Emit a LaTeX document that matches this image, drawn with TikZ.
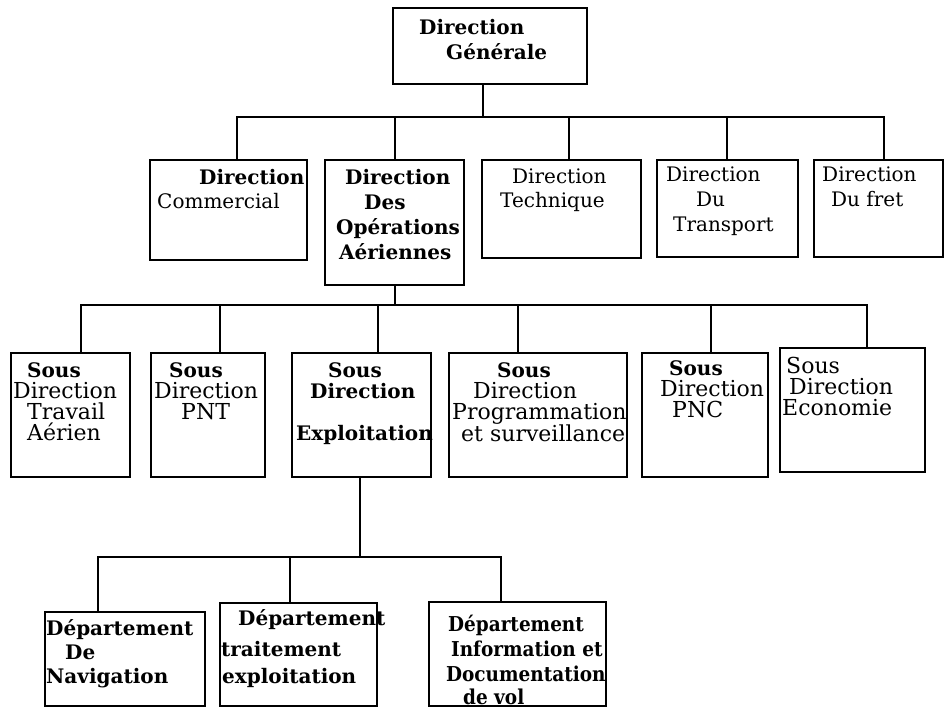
\documentclass[tikz,border=0pt]{standalone}
\usepackage{fontspec}
\setmainfont{DejaVu Serif}
\newfontfamily\narrowserif{DejaVu Serif Condensed}
% wider regular text used in the sub-direction boxes
\newcommand\wide[1]{{\fontsize{22}{21}\selectfont #1}}
\begin{document}
\begin{tikzpicture}[x=1pt,y=-1pt,
  box/.style={draw,line width=1.6pt,inner sep=0pt},
  conn/.style={line width=1.6pt},
  lbl/.style={anchor=north west,inner sep=0pt,align=left,font=\fontsize{20}{24}\selectfont},
  lblb/.style={lbl,font=\fontsize{20}{25}\selectfont},
  lbls/.style={lbl,font=\fontsize{20}{21}\selectfont},
  lbln/.style={lbl,font=\narrowserif\fontsize{20.5}{25}\selectfont}]
\useasboundingbox (0,0) rectangle (945,709);
\fill[white] (0,0) rectangle (945,709);

% ---- general direction
\node[box,minimum width=194pt,minimum height=76pt] (DG) at (490,46) {};
\node[lblb] (tDG) at (419,19) {\textbf{Direction}\\\hspace*{27pt}\textbf{Générale}};

% ---- directions
\node[box,minimum width=157pt,minimum height=100pt] (DC)  at (228.5,210) {};
\node[box,minimum width=139pt,minimum height=125pt] (DOA) at (394.5,222.5) {};
\node[box,minimum width=159pt,minimum height=98pt]  (DT)  at (561.5,209) {};
\node[box,minimum width=141pt,minimum height=97pt]  (DTr) at (727.5,208.5) {};
\node[box,minimum width=129pt,minimum height=97pt]  (DF)  at (878.5,208.5) {};

\node[lbl]  (tDC)  at (157,169) {\hspace*{42pt}\textbf{Direction}\\Commercial};
\node[lblb] (tDOA) at (336,169) {\hspace*{9pt}\textbf{Direction}\\\hspace*{28pt}\textbf{Des}\\\textbf{Opérations}\\\hspace*{3pt}\textbf{Aériennes}};
\node[lbl]  (tDT)  at (500,169) {\hspace*{12pt}Direction\\Technique};
\node[lblb] (tDTr) at (666,167) {Direction\\\hspace*{30pt}Du\\\hspace*{7pt}Transport};
\node[lblb] (tDF)  at (822,167) {Direction\\\hspace*{9pt}Du fret};

% ---- sub-directions
\node[box,minimum width=119pt,minimum height=124pt] (S1) at (70.5,415) {};
\node[box,minimum width=114pt,minimum height=124pt] (S2) at (208,415) {};
\node[box,minimum width=139pt,minimum height=124pt] (S3) at (361.5,415) {};
\node[box,minimum width=178pt,minimum height=124pt] (S4) at (538,415) {};
\node[box,minimum width=126pt,minimum height=124pt] (S5) at (705,415) {};
\node[box,minimum width=145pt,minimum height=124pt] (S6) at (852.5,410) {};

\node[lbls] (tS1) at (13,362)  {\hspace*{14pt}\textbf{Sous}\\\wide{Direction}\\\hspace*{14pt}\wide{Travail}\\\hspace*{14pt}\wide{Aérien}};
\node[lbls] (tS2) at (154,362) {\hspace*{15pt}\textbf{Sous}\\\wide{Direction}\\\hspace*{27pt}\wide{PNT}};
\node[lbls] (tS3) at (296,362) {\hspace*{32pt}\textbf{Sous}\\\hspace*{14pt}\textbf{Direction}\\[21pt]\textbf{Exploitation}};
\node[lbls] (tS4) at (452,362) {\hspace*{45pt}\textbf{Sous}\\\hspace*{21pt}\wide{Direction}\\\wide{Programmation}\\\hspace*{9pt}\wide{et surveillance}};
\node[lbls] (tS5) at (660,360) {\hspace*{9pt}\textbf{Sous}\\\wide{Direction}\\\hspace*{12pt}\wide{PNC}};
\node[lbls] (tS6) at (782,357) {\hspace*{4pt}\wide{Sous}\\\hspace*{7pt}\wide{Direction}\\\wide{Economie}};

% ---- departments
\node[box,minimum width=160pt,minimum height=94pt]  (D1) at (125,659) {};
\node[box,minimum width=157pt,minimum height=103pt] (D2) at (298.5,654.5) {};
\node[box,minimum width=177pt,minimum height=104pt] (D3) at (517.5,654) {};

\node[lbl] (tD1) at (46,619)  {\textbf{Département}\\\hspace*{19pt}\textbf{De}\\\textbf{Navigation}};
\node[lbl] (tD2) at (221,609) {\hspace*{17pt}\textbf{Département}\\[7pt]\textbf{traitement}\\[3pt]\hspace*{1pt}\textbf{exploitation}};
\node[lbln] (tD3) at (446,615) {\hspace*{2pt}\textbf{Département}\\\hspace*{5pt}\textbf{Information et}\\\textbf{Documentation}\\[-2pt]\hspace*{17pt}\textbf{de vol}};

% ---- connectors
\coordinate (b1) at (483,117);
\draw[conn] (DG.south -| b1) -- (b1);
\draw[conn] ([xshift=8.5pt]DC.north) |- (b1);
\draw[conn] ([xshift=0.5pt]DOA.north) |- (b1);
\draw[conn] ([xshift=7.5pt]DT.north) |- (b1);
\draw[conn] ([xshift=-0.5pt]DTr.north) |- (b1);
\draw[conn] ([xshift=5.5pt]DF.north) |- (b1);

\coordinate (b2) at (395,305);
\draw[conn] (DOA.south -| b2) -- (b2);
\draw[conn] ([xshift=10.5pt]S1.north) |- (b2);
\draw[conn] ([xshift=12pt]S2.north) |- (b2);
\draw[conn] ([xshift=16.5pt]S3.north) |- (b2);
\draw[conn] ([xshift=-20pt]S4.north) |- (b2);
\draw[conn] ([xshift=6pt]S5.north) |- (b2);
\draw[conn] ([xshift=14.5pt]S6.north) |- (b2);

\coordinate (b3) at (360,557);
\draw[conn] (S3.south -| b3) -- (b3);
\draw[conn] ([xshift=-27pt]D1.north) |- (b3);
\draw[conn] ([xshift=-8.5pt]D2.north) |- (b3);
\draw[conn] ([xshift=-16.5pt]D3.north) |- (b3);
\end{tikzpicture}
\end{document}
